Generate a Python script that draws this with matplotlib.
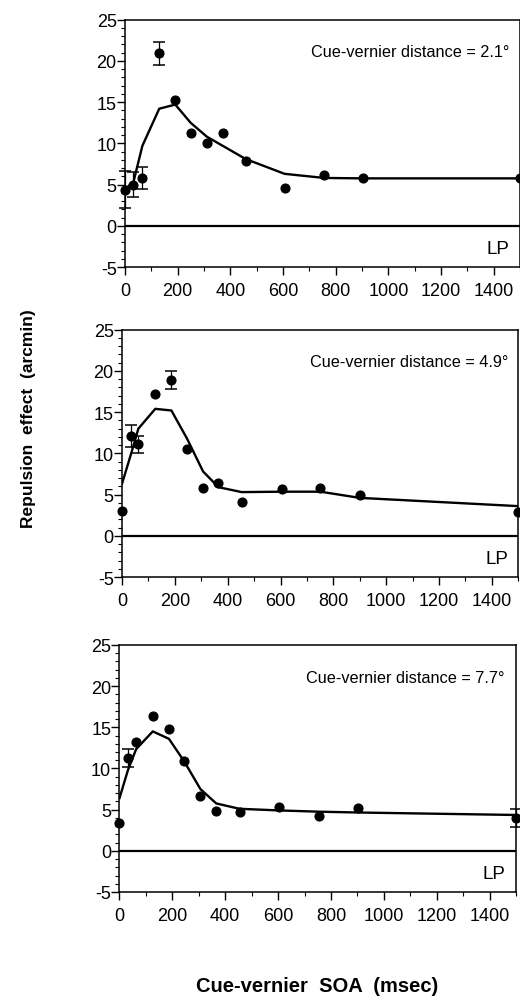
import numpy as np
import matplotlib
matplotlib.use("Agg")
import matplotlib.pyplot as plt
from matplotlib.ticker import MultipleLocator

plt.rcParams['font.family'] = ['Liberation Sans', 'DejaVu Sans']
plt.rcParams['axes.unicode_minus'] = False

# data (SOA in msec, repulsion in arcmin)
soa_1 = [0, 32, 66, 130, 191, 249, 311, 371, 458, 606, 757, 903, 1500]
eff_1 = [4.4, 5.0, 5.8, 20.9, 15.2, 11.2, 10.0, 11.3, 7.9, 4.6, 6.1, 5.8, 5.75]
fit_1 = [4.45, 5.3, 9.7, 14.2, 14.7, 12.5, 10.8, 9.7, 8.1, 6.3, 5.8, 5.75, 5.75]
err_idx_1 = [0, 1, 2, 3]
err_1 = [2.3, 1.5, 1.3, 1.4]

soa_2 = [0, 33, 62, 126, 187, 246, 307, 365, 453, 604, 751, 900, 1500]
eff_2 = [3.05, 12.1, 11.1, 17.2, 18.9, 10.5, 5.8, 6.4, 4.15, 5.7, 5.85, 4.95, 2.9]
fit_2 = [6.3, 9.8, 13.0, 15.4, 15.2, 11.8, 7.8, 5.9, 5.3, 5.35, 5.35, 4.6, 3.6]
err_idx_2 = [1, 2, 4]
err_2 = [1.35, 1.0, 1.05]

soa_3 = [0, 32, 63, 126, 187, 244, 306, 366, 454, 605, 754, 902, 1500]
eff_3 = [3.4, 11.3, 13.2, 16.4, 14.8, 10.85, 6.6, 4.8, 4.75, 5.3, 4.2, 5.2, 4.0]
fit_3 = [6.4, 9.8, 12.35, 14.5, 13.6, 10.9, 7.5, 5.75, 5.1, 4.9, 4.75, 4.65, 4.35]
err_idx_3 = [1, 12]
err_3 = [1.07, 1.05]

distances = ["2.1", "4.9", "7.7"]

panels = [
    (soa_1, eff_1, fit_1, err_idx_1, err_1),
    (soa_2, eff_2, fit_2, err_idx_2, err_2),
    (soa_3, eff_3, fit_3, err_idx_3, err_3),
]

# axes boxes in figure fraction
boxes = [
    [0.2404, 0.7328, 0.7596, 0.2466],
    [0.2346, 0.4237, 0.7621, 0.2466],
    [0.2298, 0.1097, 0.7625, 0.2463],
]
label_x = [0.972, 0.975, 0.972]

fig = plt.figure(figsize=(5.2, 10.03), dpi=100)

for i, (soa, eff, fit, eidx, err) in enumerate(panels):
    ax = fig.add_axes(boxes[i])
    ax.plot(soa, fit, color="black", lw=1.7, zorder=2)
    ax.plot(soa, eff, "o", color="black", ms=6.3, zorder=3, clip_on=False)
    ax.errorbar([soa[k] for k in eidx], [eff[k] for k in eidx], yerr=err,
                fmt="none", ecolor="black", elinewidth=0.9, capsize=4,
                capthick=1.1, zorder=3, clip_on=False)
    ax.axhline(0, color="black", lw=1.6, zorder=1)

    ax.set_xlim(0, 1500)
    ax.set_ylim(-5, 25)
    ax.xaxis.set_minor_locator(MultipleLocator(100))
    ax.yaxis.set_major_locator(MultipleLocator(5))
    ax.yaxis.set_minor_locator(MultipleLocator(1))
    ax.set_xticks(np.arange(0, 1401, 200))
    ax.tick_params(axis="both", which="major", direction="out", length=5.5,
                   width=1.0, labelsize=13)
    ax.tick_params(axis="both", which="minor", direction="out", length=3,
                   width=0.8)
    ax.tick_params(axis="y", which="major", pad=0.5)
    ax.tick_params(axis="x", which="major", pad=5)
    for s in ax.spines.values():
        s.set_linewidth(1.1)

    ax.text(label_x[i], 0.87, "Cue-vernier distance = %s\u00b0" % distances[i],
            transform=ax.transAxes, ha="right", va="center", fontsize=11.7)
    ax.text(label_x[i], 0.075, "LP", transform=ax.transAxes, ha="right",
            va="center", fontsize=13.5)

fig.text(0.054, 0.583, "Repulsion  effect  (arcmin)", rotation=90,
         ha="center", va="center", fontsize=12.5, fontweight="bold")
fig.text(0.61, 0.016, "Cue-vernier  SOA  (msec)", ha="center", va="center",
         fontsize=14.5, fontweight="bold")

fig.savefig("out.png", dpi=100)
